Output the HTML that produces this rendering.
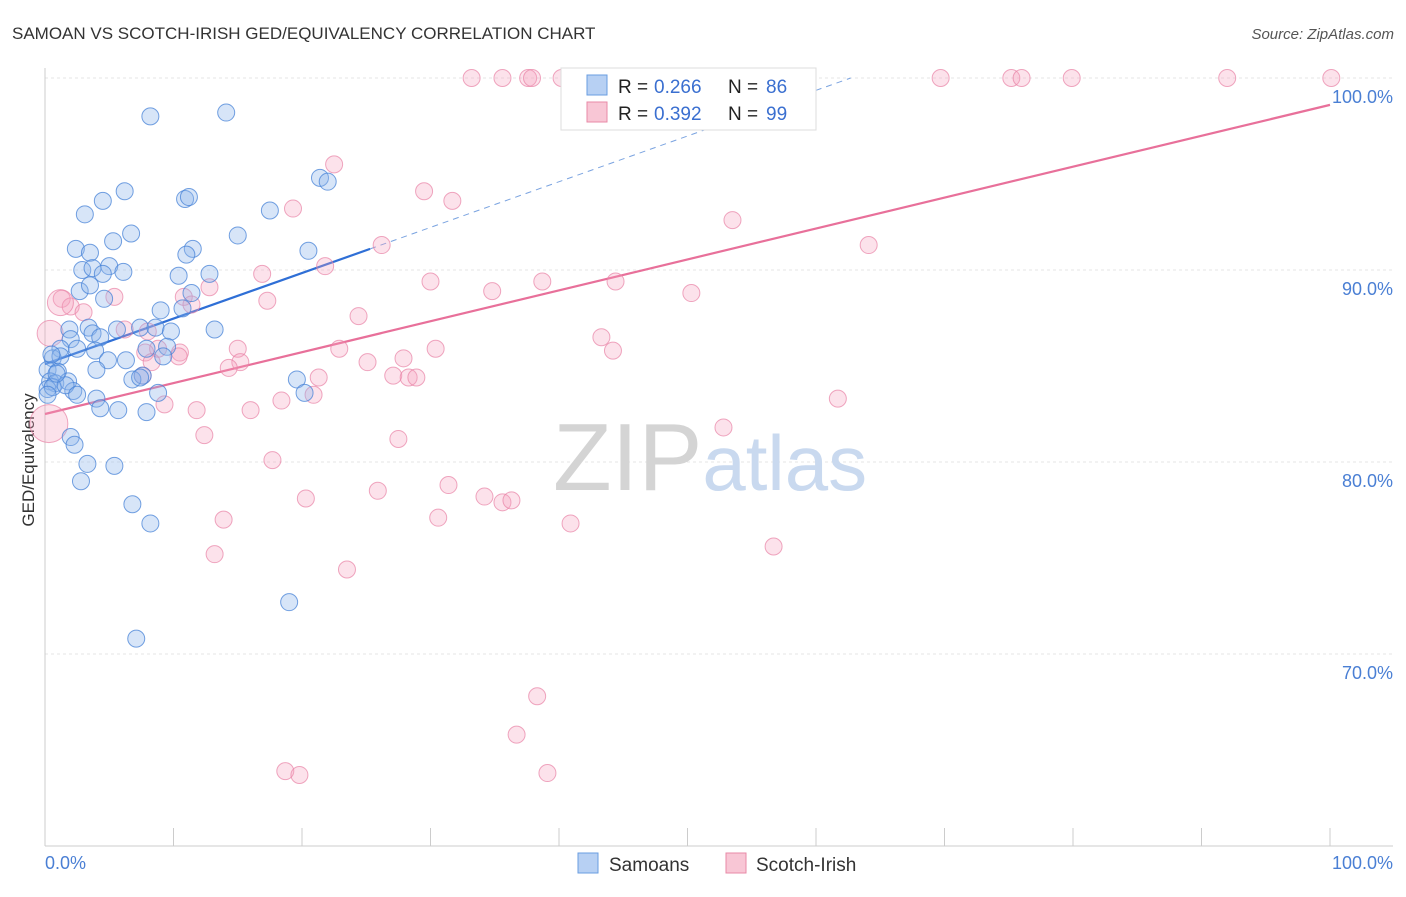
<!DOCTYPE html>
<html><head><meta charset="utf-8"><style>
body{margin:0;background:#fff;font-family:"Liberation Sans",sans-serif;}
svg text{font-family:"Liberation Sans",sans-serif;}
</style></head><body>
<svg id="chart" width="1406" height="892" xmlns="http://www.w3.org/2000/svg">
<text x="12" y="39" font-size="17" fill="#333">SAMOAN VS SCOTCH-IRISH GED/EQUIVALENCY CORRELATION CHART</text>
<text x="1394" y="39" font-size="15" fill="#555" text-anchor="end" font-style="italic">Source: ZipAtlas.com</text>
<text transform="translate(34,460) rotate(-90)" font-size="17" fill="#333" text-anchor="middle">GED/Equivalency</text>
<g id="grid"></g><g id="axes"></g>
<text x="553" y="490" font-size="96" fill="#d4d4d4" font-family="Liberation Serif">ZIP<tspan fill="#c9d9ef" font-family="Liberation Sans" font-size="78">atlas</tspan></text>
<g id="trend"></g><g id="points"></g>
<g>
<rect x="561" y="68" width="255" height="62" fill="#fff" stroke="#ddd"/>
<rect x="587" y="75" width="20" height="20" fill="#b7d0f3" stroke="#6a9ee0"/>
<text x="618" y="93" font-size="19" fill="#222">R =</text><text x="654" y="93" font-size="19" fill="#3a6fd0">0.266</text>
<text x="728" y="93" font-size="19" fill="#222">N =</text><text x="766" y="93" font-size="19" fill="#3a6fd0">86</text>
<rect x="587" y="102" width="20" height="20" fill="#f8c6d5" stroke="#e88aa7"/>
<text x="618" y="120" font-size="19" fill="#222">R =</text><text x="654" y="120" font-size="19" fill="#3a6fd0">0.392</text>
<text x="728" y="120" font-size="19" fill="#222">N =</text><text x="766" y="120" font-size="19" fill="#3a6fd0">99</text>
</g>
<g>
<rect x="578" y="853" width="20" height="20" fill="#b7d0f3" stroke="#6a9ee0"/>
<text x="609" y="871" font-size="19" fill="#333">Samoans</text>
<rect x="726" y="853" width="20" height="20" fill="#f8c6d5" stroke="#e88aa7"/>
<text x="756" y="871" font-size="19" fill="#333">Scotch-Irish</text>
</g>
</svg>
<script>
const yTicks=[70,80,90,100];
const yTickLabels=["70.0%","80.0%","90.0%","100.0%"];
const samoanX=[8.2,14.1,21.4,22,6.2,10.9,11.2,4.5,3.1,17.5,6.7,15,5.3,2.4,3.5,11.5,11,20.5,2.9,3.7,5,4.5,6.1,10.4,12.8,2.7,3.5,4.6,11.4,9,10.7,1.9,3.4,5.6,7.4,8.6,9.8,13.2,3.7,4.3,2,1.2,2.5,3.9,7.9,9.5,0.6,1.2,4.9,6.3,9.2,0.2,1,4,7.6,6.8,7.4,0.4,0.8,1.8,0.2,0.6,2.2,1.6,19.6,20.2,8.8,4,2.5,4.3,5.7,7.9,2,2.3,3.3,5.4,2.8,6.8,8.2,19,7.1,0.5,0.2,0.9];
const samoanY=[98,98.2,94.8,94.6,94.1,93.7,93.8,93.6,92.9,93.1,91.9,91.8,91.5,91.1,90.9,91.1,90.8,91,90,90.1,90.2,89.8,89.9,89.7,89.8,88.9,89.2,88.5,88.8,87.9,88,86.9,87,86.9,87,87,86.8,86.9,86.7,86.5,86.4,85.9,85.9,85.8,85.9,86,85.4,85.5,85.3,85.3,85.5,84.8,84.7,84.8,84.5,84.3,84.4,84.2,84.1,84.2,83.8,83.9,83.7,84,84.3,83.6,83.6,83.3,83.5,82.8,82.7,82.6,81.3,80.9,79.9,79.8,79,77.8,76.8,72.7,70.8,85.6,83.5,84.6];
const scotchX=[33.2,35.6,37.6,37.9,40.2,44,47.6,50.7,51.5,56.4,69.7,75.2,76,79.9,92,100.1,22.5,31.7,29.5,19.3,53.5,26.2,64.1,21.8,16.9,30,38.7,44.4,34.8,50.3,1.3,5.4,10.8,11.4,17.3,12.8,2,3,24.4,8,6.2,43.3,22.9,44.2,30.4,15,8.8,10.5,7.8,10.4,8.3,27.9,25.1,15.2,14.3,27.1,28.3,28.9,21.3,7.6,18.4,20.9,9.3,11.8,16,61.7,12.4,27.5,52.8,17.7,31.4,25.9,20.3,34.2,35.6,36.3,40.9,30.6,13.9,13.2,56.7,23.5,38.3,36.7,39.1,18.7,19.8,0.3,0.4,1.2];
const scotchY=[100,100,100,100,100,100,100,100,100,100,100,100,100,100,100,100,95.5,93.6,94.1,93.2,92.6,91.3,91.3,90.2,89.8,89.4,89.4,89.4,88.9,88.8,88.5,88.6,88.6,88.2,88.4,89.1,88.1,87.8,87.6,86.8,86.9,86.5,85.9,85.8,85.9,85.9,85.9,85.7,85.7,85.5,85.2,85.4,85.2,85.2,84.9,84.5,84.4,84.4,84.4,84.5,83.2,83.5,83,82.7,82.7,83.3,81.4,81.2,81.8,80.1,78.8,78.5,78.1,78.2,77.9,78,76.8,77.1,77,75.2,75.6,74.4,67.8,65.8,63.8,63.9,63.7,82.0,86.7,88.3];
const samoanTrend=[[0,85.1],[25.3,91.1]];
const samoanDash=[[25.3,91.1],[62.7,100]];
const scotchTrend=[[0,82.5],[100,98.6]];
const X0=45,X1=1330,YT=78,YB=846;
const xs=v=>X0+(X1-X0)*v/100;
const ys=v=>YB-(YB-YT)*(v-60)/40;
const NS="http://www.w3.org/2000/svg";
function mk(tag,attrs,parent){const e=document.createElementNS(NS,tag);for(const k in attrs)e.setAttribute(k,attrs[k]);parent.appendChild(e);return e;}
const grid=document.getElementById('grid'),axes=document.getElementById('axes');
yTicks.forEach((t,i)=>{
 const l=mk('line',{x1:45,x2:1393,y1:ys(t),y2:ys(t),stroke:'#e6e6e6','stroke-dasharray':'3,3'},grid);
 
 
 const tx=mk('text',{x:1393,y:ys(t)+25,'font-size':18,fill:'#4a7fd4','text-anchor':'end'},axes);
 tx.textContent=yTickLabels[i];
 
 
});
let a=mk('line',{x1:45,x2:45,y1:68,y2:846,stroke:'#ccc'},axes);


a=mk('line',{x1:45,x2:1393,y1:846,y2:846,stroke:'#ccc'},axes);


for(let i=0;i<=10;i++){const t=mk('line',{x1:xs(i*10),x2:xs(i*10),y1:828,y2:846,stroke:'#ccc'},axes);
 
 }
let xl=mk('text',{x:45,y:869,'font-size':18,fill:'#4a7fd4'},axes);xl.textContent='0.0%';


xl=mk('text',{x:1393,y:869,'font-size':18,fill:'#4a7fd4','text-anchor':'end'},axes);xl.textContent='100.0%';


const pts=document.getElementById('points');
function dots(X,Y,fill,stroke,name,bigFrom){X.forEach((x,i)=>{const r=(bigFrom>=0&&i>=bigFrom)?(i===X.length-3?19:13):8.5;
 const c=mk('circle',{cx:xs(x),cy:ys(Y[i]),r:r,fill:fill,stroke:stroke,'stroke-width':1},pts);
 
 });}
dots(scotchX,scotchY,'rgba(244,160,188,0.3)','rgba(232,130,165,0.7)','scotch-irish-point',scotchX.length-3);
dots(samoanX,samoanY,'rgba(140,180,235,0.35)','rgba(70,130,215,0.75)','samoan-point',-1);
const tr=document.getElementById('trend');
let ln=mk('line',{x1:xs(scotchTrend[0][0]),y1:ys(scotchTrend[0][1]),x2:xs(scotchTrend[1][0]),y2:ys(scotchTrend[1][1]),stroke:'#e8709a','stroke-width':2.2},tr);


ln=mk('line',{x1:xs(samoanTrend[0][0]),y1:ys(samoanTrend[0][1]),x2:xs(samoanTrend[1][0]),y2:ys(samoanTrend[1][1]),stroke:'#2f6fd6','stroke-width':2.2},tr);


ln=mk('line',{x1:xs(samoanDash[0][0]),y1:ys(samoanDash[0][1]),x2:xs(samoanDash[1][0]),y2:ys(samoanDash[1][1]),stroke:'#7aa3e0','stroke-width':1,'stroke-dasharray':'6,5'},tr);


</script>
</body></html>
